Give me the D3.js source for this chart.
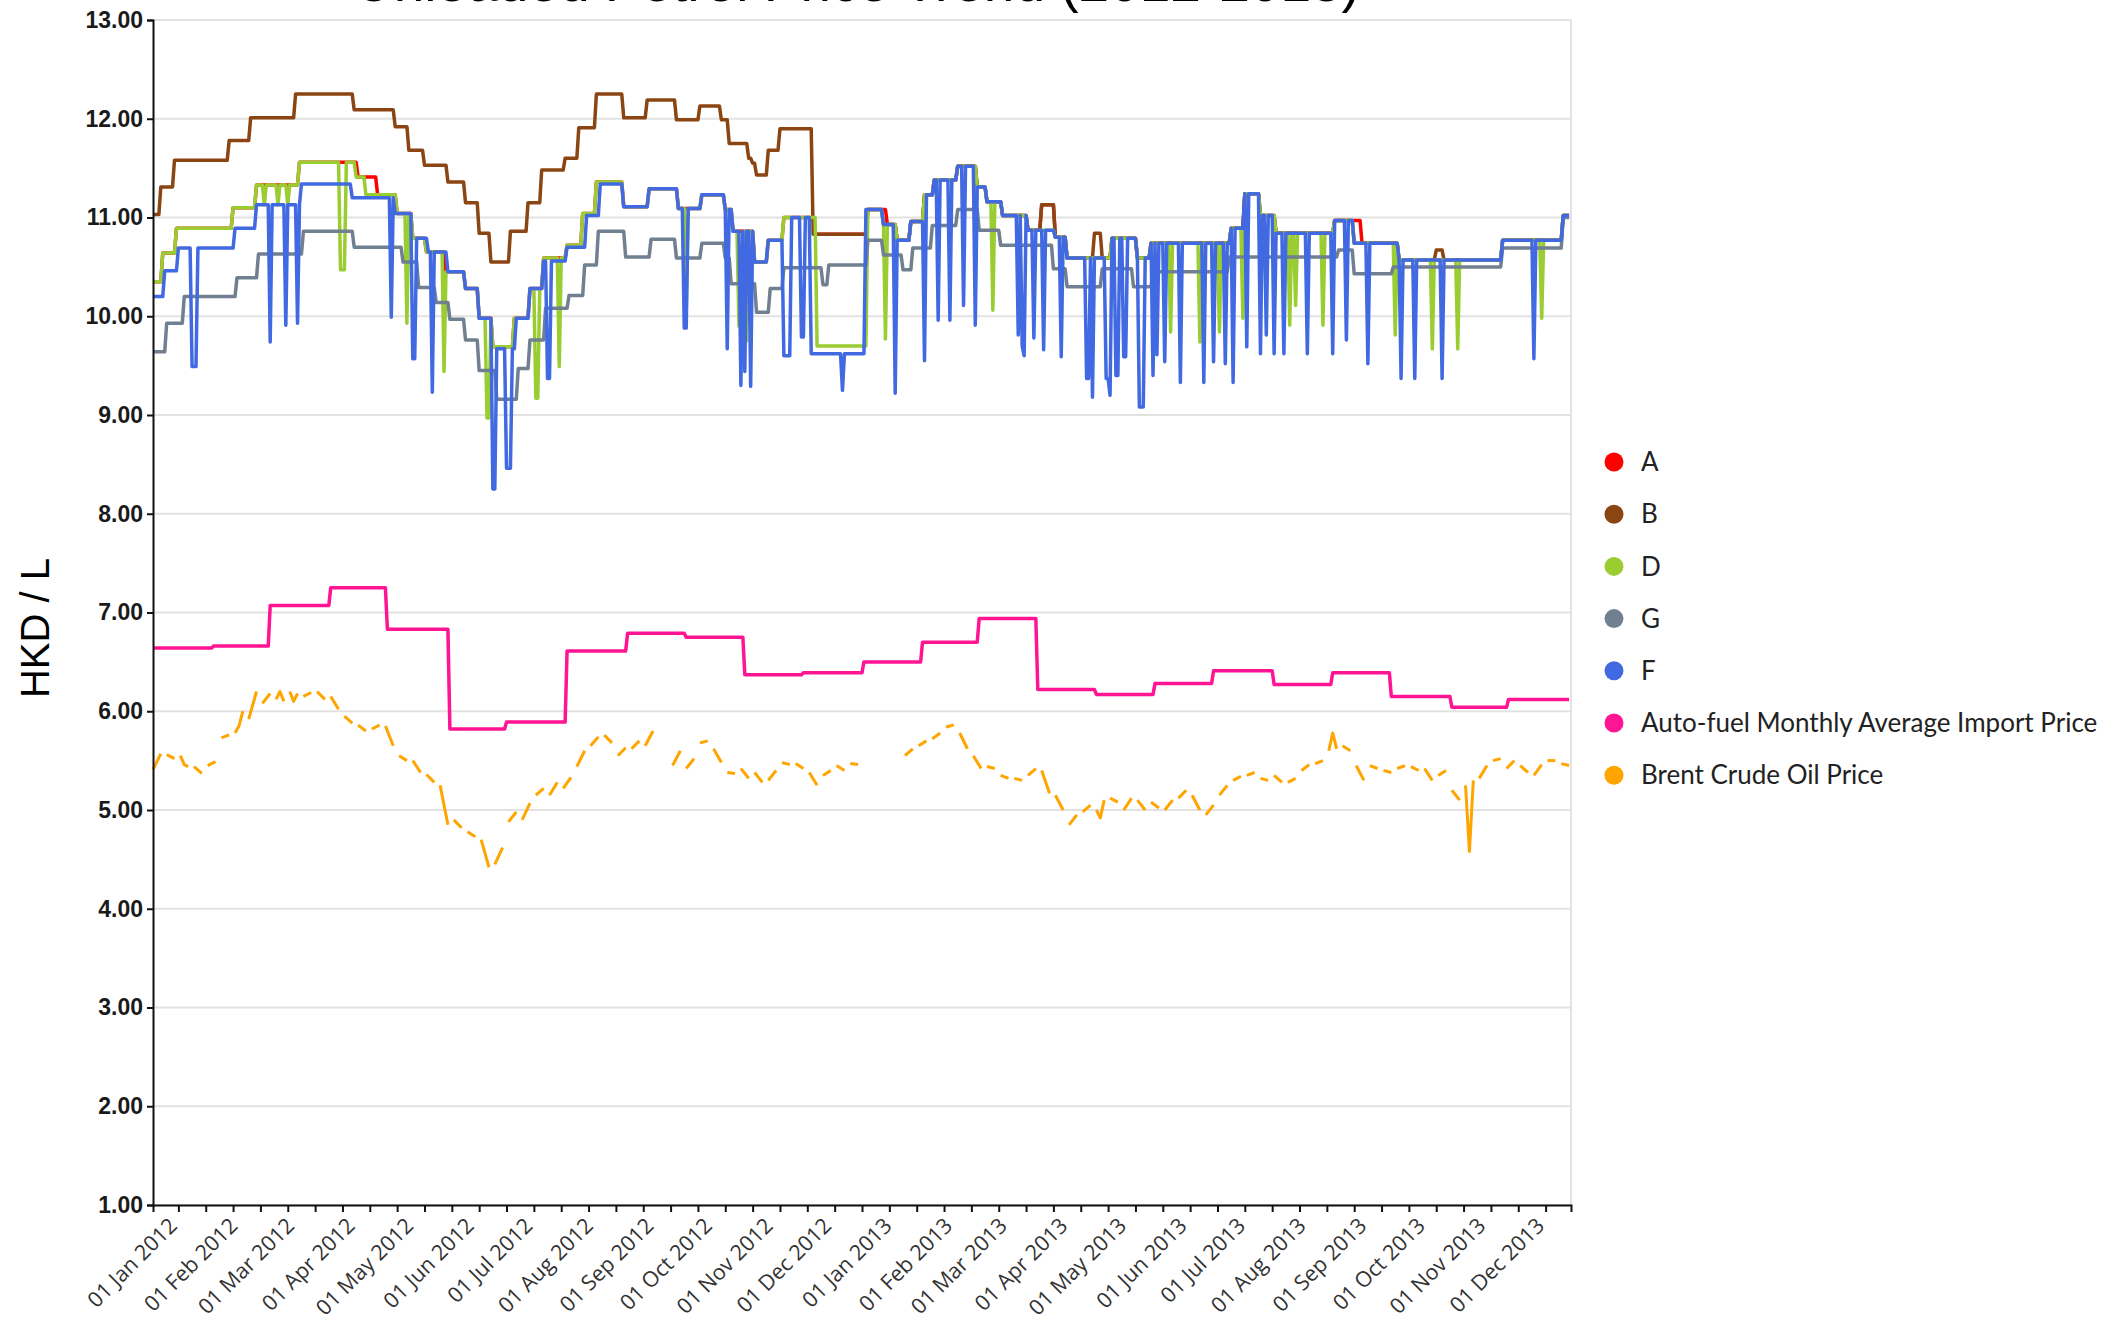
<!DOCTYPE html>
<html>
<head>
<meta charset="utf-8">
<script src="https://cdn.jsdelivr.net/npm/d3@7"></script>
<style>
  body { margin: 0; background: #fff; }
  svg { display: block; }
</style>
</head>
<body>
<div id="chart"></div>
<script>
// change points [date, HKD/L] - each value holds until the next one
var aSteps = [
  ["2011-12-19", 10.35], ["2011-12-24", 10.64], ["2011-12-31", 10.89], ["2012-01-29", 11.10],
  ["2012-02-10", 11.33], ["2012-03-03", 11.56], ["2012-04-02", 11.41], ["2012-04-12", 11.23],
  ["2012-04-22", 11.04], ["2012-04-30", 10.79], ["2012-05-07", 10.65], ["2012-05-17", 10.45],
  ["2012-05-27", 10.28], ["2012-06-03", 9.98], ["2012-06-10", 9.69], ["2012-06-21", 9.98],
  ["2012-06-29", 10.28], ["2012-07-06", 10.59], ["2012-07-18", 10.72], ["2012-07-26", 11.04],
  ["2012-08-02", 11.36], ["2012-08-16", 11.11], ["2012-08-29", 11.29], ["2012-09-13", 11.09],
  ["2012-09-25", 11.23], ["2012-10-07", 11.08], ["2012-10-11", 10.86], ["2012-10-22", 10.55],
  ["2012-10-29", 10.77], ["2012-11-06", 11.00], ["2012-11-22", 10.83], ["2012-12-19", 11.08],
  ["2012-12-29", 10.93], ["2013-01-03", 10.77], ["2013-01-10", 10.96], ["2013-01-17", 11.23],
  ["2013-01-22", 11.38], ["2013-02-03", 11.52], ["2013-02-13", 11.31], ["2013-02-18", 11.16],
  ["2013-02-26", 11.02], ["2013-03-11", 10.87], ["2013-03-18", 11.13], ["2013-03-25", 10.80],
  ["2013-03-31", 10.59], ["2013-04-23", 10.79], ["2013-05-06", 10.59], ["2013-05-13", 10.74],
  ["2013-06-23", 10.89], ["2013-06-30", 11.24], ["2013-07-08", 11.02], ["2013-07-16", 10.84],
  ["2013-08-15", 10.97], ["2013-08-29", 10.74], ["2013-09-17", 10.57], ["2013-11-09", 10.77],
  ["2013-12-10", 11.02]
];

var bSteps = [
  ["2011-12-19", 11.03], ["2011-12-23", 11.31], ["2011-12-30", 11.58], ["2012-01-27", 11.78],
  ["2012-02-07", 12.01], ["2012-03-01", 12.25], ["2012-03-31", 12.09], ["2012-04-21", 11.92],
  ["2012-04-28", 11.68], ["2012-05-06", 11.53], ["2012-05-18", 11.36], ["2012-05-27", 11.15],
  ["2012-06-03", 10.84], ["2012-06-09", 10.55], ["2012-06-19", 10.86], ["2012-06-28", 11.15],
  ["2012-07-05", 11.48], ["2012-07-17", 11.60], ["2012-07-24", 11.91], ["2012-08-02", 12.25],
  ["2012-08-16", 12.01], ["2012-08-28", 12.19], ["2012-09-12", 11.99], ["2012-09-24", 12.13],
  ["2012-10-05", 11.99], ["2012-10-09", 11.75], ["2012-10-19", 11.60], ["2012-10-21", 11.55],
  ["2012-10-23", 11.43], ["2012-10-29", 11.68], ["2012-11-04", 11.90], ["2012-11-21", 10.83],
  ["2012-12-19", 11.08], ["2012-12-27", 10.93], ["2013-01-03", 10.77], ["2013-01-10", 10.96],
  ["2013-01-17", 11.23], ["2013-01-22", 11.38], ["2013-02-03", 11.52], ["2013-02-13", 11.31],
  ["2013-02-18", 11.16], ["2013-02-26", 11.02], ["2013-03-11", 10.87], ["2013-03-18", 11.13],
  ["2013-03-25", 10.80], ["2013-03-31", 10.59], ["2013-04-14", 10.84], ["2013-04-18", 10.59],
  ["2013-04-23", 10.79], ["2013-05-06", 10.59], ["2013-05-13", 10.74], ["2013-06-23", 10.89],
  ["2013-06-30", 11.24], ["2013-07-08", 11.02], ["2013-07-16", 10.84], ["2013-08-15", 10.97],
  ["2013-08-25", 10.74], ["2013-09-17", 10.57], ["2013-10-06", 10.67], ["2013-10-10", 10.57],
  ["2013-11-09", 10.77], ["2013-12-10", 11.02]
];

var dSteps = [
  ["2011-12-19", 10.35], ["2011-12-24", 10.64], ["2011-12-31", 10.89], ["2012-01-29", 11.10],
  ["2012-02-10", 11.33], ["2012-03-03", 11.56], ["2012-04-01", 11.41], ["2012-04-06", 11.23],
  ["2012-04-22", 11.04], ["2012-04-30", 10.79], ["2012-05-07", 10.65], ["2012-05-17", 10.45],
  ["2012-05-27", 10.28], ["2012-06-03", 9.98], ["2012-06-10", 9.69], ["2012-06-21", 9.98],
  ["2012-06-29", 10.28], ["2012-07-06", 10.59], ["2012-07-18", 10.72], ["2012-07-26", 11.04],
  ["2012-08-02", 11.36], ["2012-08-16", 11.11], ["2012-08-29", 11.29], ["2012-09-13", 11.09],
  ["2012-09-25", 11.23], ["2012-10-07", 11.08], ["2012-10-11", 10.86], ["2012-10-22", 10.55],
  ["2012-10-29", 10.77], ["2012-11-06", 11.00], ["2012-11-23", 9.70], ["2012-12-19", 11.08],
  ["2012-12-27", 10.93], ["2013-01-03", 10.77], ["2013-01-10", 10.96], ["2013-01-17", 11.23],
  ["2013-01-22", 11.38], ["2013-02-03", 11.52], ["2013-02-13", 11.31], ["2013-02-18", 11.16],
  ["2013-02-26", 11.02], ["2013-03-11", 10.87], ["2013-03-25", 10.80], ["2013-03-31", 10.59],
  ["2013-04-23", 10.79], ["2013-05-06", 10.59], ["2013-05-13", 10.74], ["2013-06-23", 10.89],
  ["2013-06-30", 11.24], ["2013-07-08", 11.02], ["2013-07-16", 10.84], ["2013-08-15", 10.97],
  ["2013-08-25", 10.74], ["2013-09-17", 10.57], ["2013-11-09", 10.77], ["2013-12-10", 11.02]
];

var gSteps = [
  ["2011-12-19", 9.64], ["2011-12-26", 9.93], ["2012-01-04", 10.20], ["2012-01-31", 10.39],
  ["2012-02-11", 10.63], ["2012-03-05", 10.86], ["2012-03-31", 10.70], ["2012-04-25", 10.55],
  ["2012-05-03", 10.29], ["2012-05-12", 10.14], ["2012-05-19", 9.97], ["2012-05-27", 9.76],
  ["2012-06-03", 9.45], ["2012-06-12", 9.16], ["2012-06-23", 9.47], ["2012-06-29", 9.76],
  ["2012-07-07", 10.08], ["2012-07-19", 10.21], ["2012-07-27", 10.52], ["2012-08-03", 10.86],
  ["2012-08-17", 10.60], ["2012-08-30", 10.78], ["2012-09-12", 10.59], ["2012-09-25", 10.74],
  ["2012-10-07", 10.59], ["2012-10-10", 10.33], ["2012-10-23", 10.04], ["2012-10-30", 10.28],
  ["2012-11-06", 10.49], ["2012-11-26", 10.32], ["2012-11-29", 10.52], ["2012-12-19", 10.77],
  ["2012-12-27", 10.62], ["2013-01-06", 10.47], ["2013-01-11", 10.69], ["2013-01-21", 10.92],
  ["2013-02-03", 11.08], ["2013-02-14", 10.87], ["2013-02-25", 10.72], ["2013-03-24", 10.48],
  ["2013-03-31", 10.30], ["2013-04-18", 10.48], ["2013-05-04", 10.30], ["2013-05-14", 10.45],
  ["2013-06-22", 10.60], ["2013-08-17", 10.67], ["2013-08-25", 10.43], ["2013-09-14", 10.50],
  ["2013-11-09", 10.69], ["2013-12-10", 11.00]
];

var fSteps = [
  ["2011-12-19", 10.20], ["2011-12-25", 10.46], ["2012-01-01", 10.69], ["2012-01-30", 10.89],
  ["2012-02-10", 11.13], ["2012-03-04", 11.34], ["2012-03-30", 11.20], ["2012-04-21", 11.04],
  ["2012-04-30", 10.79], ["2012-05-08", 10.65], ["2012-05-18", 10.45], ["2012-05-27", 10.28],
  ["2012-06-03", 9.98], ["2012-06-10", 9.67], ["2012-06-22", 9.98], ["2012-06-29", 10.28],
  ["2012-07-06", 10.56], ["2012-07-18", 10.70], ["2012-07-28", 11.02], ["2012-08-04", 11.34],
  ["2012-08-16", 11.11], ["2012-08-29", 11.29], ["2012-09-13", 11.09], ["2012-09-25", 11.23],
  ["2012-10-07", 11.08], ["2012-10-11", 10.86], ["2012-10-22", 10.55], ["2012-10-29", 10.77],
  ["2012-11-06", 11.00], ["2012-11-20", 9.62], ["2012-12-18", 11.08], ["2012-12-27", 10.93],
  ["2013-01-03", 10.77], ["2013-01-10", 10.96], ["2013-01-17", 11.23], ["2013-01-22", 11.38],
  ["2013-02-03", 11.52], ["2013-02-13", 11.31], ["2013-02-18", 11.16], ["2013-02-26", 11.02],
  ["2013-03-11", 10.87], ["2013-03-25", 10.80], ["2013-03-31", 10.59], ["2013-04-23", 10.79],
  ["2013-05-06", 10.59], ["2013-05-13", 10.74], ["2013-06-23", 10.89], ["2013-06-30", 11.24],
  ["2013-07-08", 11.02], ["2013-07-16", 10.84], ["2013-08-15", 10.97], ["2013-08-25", 10.74],
  ["2013-09-17", 10.57], ["2013-11-09", 10.77], ["2013-12-10", 11.02]
];

// short discount dips [first day, HKD/L, number of days]
var dDips = [
  ["2012-02-14", 11.13, 1], ["2012-02-21", 11.13, 1], ["2012-02-26", 11.13, 1], ["2012-03-24", 10.47, 3],
  ["2012-04-27", 9.93, 1], ["2012-05-16", 9.44, 1], ["2012-06-07", 8.97, 2], ["2012-07-02", 9.17, 2],
  ["2012-07-14", 9.49, 1], ["2012-09-17", 10.06, 1], ["2012-10-14", 9.90, 2], ["2012-10-18", 9.75, 1],
  ["2012-12-28", 9.77, 1], ["2013-02-21", 10.06, 1], ["2013-05-23", 9.84, 1], ["2013-06-07", 9.74, 1],
  ["2013-06-17", 9.84, 1], ["2013-06-29", 9.98, 1], ["2013-07-23", 9.91, 1], ["2013-07-26", 10.11, 1],
  ["2013-08-09", 9.91, 1], ["2013-09-15", 9.81, 1], ["2013-10-04", 9.67, 1], ["2013-10-17", 9.67, 1],
  ["2013-11-29", 9.98, 1]
];

var fDips = [
  ["2012-01-08", 9.49, 3], ["2012-02-17", 9.74, 1], ["2012-02-25", 9.91, 1], ["2012-03-02", 9.93, 1],
  ["2012-04-19", 9.99, 1], ["2012-04-30", 9.57, 2], ["2012-05-10", 9.23, 1], ["2012-06-10", 8.25, 2],
  ["2012-06-17", 8.46, 3], ["2012-07-08", 9.37, 2], ["2012-09-16", 9.88, 2], ["2012-10-08", 9.67, 1],
  ["2012-10-15", 9.30, 1], ["2012-10-17", 9.44, 1], ["2012-10-20", 9.29, 1], ["2012-11-06", 9.60, 4],
  ["2012-11-15", 9.79, 2], ["2012-12-06", 9.25, 1], ["2013-01-02", 9.22, 1], ["2013-01-17", 9.55, 1],
  ["2013-01-24", 9.96, 1], ["2013-01-30", 9.96, 1], ["2013-02-06", 10.11, 1], ["2013-02-12", 9.91, 1],
  ["2013-03-06", 9.81, 1], ["2013-03-08", 9.70, 1], ["2013-03-09", 9.60, 1], ["2013-03-14", 9.78, 1],
  ["2013-03-19", 9.66, 1], ["2013-03-28", 9.59, 1], ["2013-04-10", 9.37, 2], ["2013-04-13", 9.18, 1],
  ["2013-04-20", 9.37, 2], ["2013-04-22", 9.20, 1], ["2013-04-25", 9.40, 2], ["2013-04-29", 9.59, 2],
  ["2013-05-07", 9.08, 3], ["2013-05-14", 9.40, 1], ["2013-05-16", 9.61, 1], ["2013-05-20", 9.54, 1],
  ["2013-05-28", 9.33, 1], ["2013-06-09", 9.33, 1], ["2013-06-14", 9.54, 1], ["2013-06-20", 9.52, 1],
  ["2013-06-24", 9.33, 1], ["2013-07-01", 9.69, 1], ["2013-07-08", 9.62, 1], ["2013-07-11", 9.81, 1],
  ["2013-07-15", 9.62, 1], ["2013-07-20", 9.62, 1], ["2013-08-01", 9.62, 1], ["2013-08-14", 9.62, 1],
  ["2013-08-21", 9.76, 1], ["2013-09-01", 9.52, 1], ["2013-09-18", 9.37, 1], ["2013-09-25", 9.37, 1],
  ["2013-10-09", 9.37, 1], ["2013-11-25", 9.57, 1]
];

var importSteps = [
  ["2011-12-19", 6.64], ["2012-01-19", 6.66], ["2012-02-17", 7.07], ["2012-03-19", 7.25],
  ["2012-04-17", 6.83], ["2012-05-19", 5.82], ["2012-06-17", 5.89], ["2012-07-18", 6.61],
  ["2012-08-18", 6.79], ["2012-09-17", 6.75], ["2012-10-17", 6.37], ["2012-11-16", 6.39],
  ["2012-12-17", 6.50], ["2013-01-16", 6.70], ["2013-02-14", 6.94], ["2013-03-16", 6.22],
  ["2013-04-15", 6.17], ["2013-05-15", 6.28], ["2013-06-14", 6.41], ["2013-07-15", 6.27],
  ["2013-08-14", 6.39], ["2013-09-13", 6.15], ["2013-10-14", 6.04], ["2013-11-12", 6.12]
];

// Brent, one trading week per row: [Monday, values spread Mon..Fri]
var brentWeeks = [
  ["2011-12-19", [5.41, 5.57]], ["2011-12-26", [5.56, 5.52]], ["2012-01-02", [5.55, 5.46, 5.44]],
  ["2012-01-09", [5.44, 5.37]], ["2012-01-16", [5.45, 5.49]], ["2012-01-23", [5.73, 5.76]],
  ["2012-01-30", [5.78, 5.85, 6.00]], ["2012-02-06", [5.92, 6.20]], ["2012-02-13", [6.08, 6.18]],
  ["2012-02-20", [6.12, 6.20, 6.10]], ["2012-02-27", [6.20, 6.10, 6.18]], ["2012-03-05", [6.15, 6.19]],
  ["2012-03-12", [6.20, 6.12]], ["2012-03-19", [6.15, 6.02]], ["2012-03-26", [5.95, 5.88]],
  ["2012-04-02", [5.86, 5.80]], ["2012-04-09", [5.82, 5.86]], ["2012-04-16", [5.85, 5.65]],
  ["2012-04-23", [5.55, 5.50]], ["2012-04-30", [5.50, 5.38]], ["2012-05-07", [5.36, 5.28]],
  ["2012-05-14", [5.25, 4.85]], ["2012-05-21", [4.90, 4.82]], ["2012-05-28", [4.78, 4.73]],
  ["2012-06-04", [4.70, 4.42]], ["2012-06-11", [4.45, 4.62]], ["2012-06-18", [4.88, 4.98]],
  ["2012-06-25", [4.90, 5.07]], ["2012-07-02", [5.15, 5.22]], ["2012-07-09", [5.15, 5.28]],
  ["2012-07-16", [5.22, 5.33]], ["2012-07-23", [5.44, 5.60]], ["2012-07-30", [5.65, 5.74]],
  ["2012-08-06", [5.76, 5.68]], ["2012-08-13", [5.55, 5.63]], ["2012-08-20", [5.62, 5.70]],
  ["2012-08-27", [5.65, 5.80]], ["2012-09-10", [5.45, 5.60]], ["2012-09-17", [5.42, 5.52]],
  ["2012-09-24", [5.68, 5.70]], ["2012-10-01", [5.62, 5.48]], ["2012-10-08", [5.38, 5.37]],
  ["2012-10-15", [5.42, 5.32]], ["2012-10-22", [5.38, 5.28]], ["2012-10-29", [5.30, 5.40]],
  ["2012-11-05", [5.48, 5.46]], ["2012-11-12", [5.47, 5.42]], ["2012-11-19", [5.38, 5.25]],
  ["2012-11-26", [5.35, 5.40]], ["2012-12-03", [5.45, 5.40]], ["2012-12-10", [5.47, 5.46]],
  ["2013-01-07", [5.55, 5.62]], ["2013-01-14", [5.65, 5.70]], ["2013-01-21", [5.72, 5.78]],
  ["2013-01-28", [5.84, 5.86]], ["2013-02-04", [5.78, 5.62]], ["2013-02-11", [5.55, 5.42]],
  ["2013-02-18", [5.44, 5.42]], ["2013-02-25", [5.35, 5.32]], ["2013-03-04", [5.32, 5.30]],
  ["2013-03-11", [5.35, 5.42]], ["2013-03-18", [5.40, 5.17]], ["2013-03-25", [5.15, 5.00]],
  ["2013-04-01", [4.85, 4.95]], ["2013-04-08", [4.98, 5.05]], ["2013-04-15", [5.00, 4.92, 5.10]],
  ["2013-04-22", [5.12, 5.08]], ["2013-04-29", [5.00, 5.12]], ["2013-05-06", [5.10, 5.00]],
  ["2013-05-13", [5.08, 5.02]], ["2013-05-20", [5.00, 5.10]], ["2013-05-27", [5.12, 5.20]],
  ["2013-06-03", [5.15, 5.00]], ["2013-06-10", [4.95, 5.05]], ["2013-06-17", [5.15, 5.25]],
  ["2013-06-24", [5.30, 5.34]], ["2013-07-01", [5.35, 5.38]], ["2013-07-08", [5.32, 5.30]],
  ["2013-07-15", [5.35, 5.28]], ["2013-07-22", [5.28, 5.32]], ["2013-07-29", [5.40, 5.46]],
  ["2013-08-05", [5.47, 5.50]], ["2013-08-12", [5.60, 5.78, 5.62]], ["2013-08-19", [5.65, 5.60]],
  ["2013-08-26", [5.45, 5.30]], ["2013-09-02", [5.45, 5.42]], ["2013-09-09", [5.40, 5.38]],
  ["2013-09-16", [5.42, 5.45]], ["2013-09-23", [5.44, 5.40]], ["2013-09-30", [5.42, 5.30]],
  ["2013-10-07", [5.35, 5.40]], ["2013-10-14", [5.20, 5.10]], ["2013-10-21", [5.25, 4.58, 5.30]],
  ["2013-10-28", [5.32, 5.45]], ["2013-11-04", [5.50, 5.52]], ["2013-11-11", [5.42, 5.50]],
  ["2013-11-18", [5.45, 5.38]], ["2013-11-25", [5.35, 5.46]], ["2013-12-02", [5.50, 5.50]],
  ["2013-12-09", [5.47, 5.45]]
];

var yTicks = [1, 2, 3, 4, 5, 6, 7, 8, 9, 10, 11, 12, 13];
var legendNames = ["A", "B", "D", "G", "F", "Auto-fuel Monthly Average Import Price", "Brent Crude Oil Price"];
var legendColors = ["#ff0000", "#8b4513", "#9acd32", "#708090", "#4169e1", "#ff1493", "#ffa500"];

(function () {
    var width = 2113,
        height = 1322;
    var left = 153, right = 1571, top = 20, bottom = 1205;

    var parse = d3.utcParse("%Y-%m-%d");
    var startDate = parse("2011-12-19"),
        endDate = parse("2013-12-14"),
        lastDay = parse("2013-12-13");

    var svg = d3.select("#chart")
        .append("svg")
        .attr("width", width)
        .attr("height", height);

    var x = d3.scaleUtc().domain([startDate, endDate]).range([left, right]);
    var y = d3.scaleLinear().domain([1, 13]).range([bottom, top]);

    // hold each price until the next change, then lay the dips over it
    function daily(steps, dips) {
        var pts = steps.map(function (s) { return [parse(s[0]), s[1]]; });
        var days = d3.utcDay.range(pts[0][0], d3.utcDay.offset(lastDay, 1));
        var j = 0;
        var out = days.map(function (day) {
            while (j + 1 < pts.length && pts[j + 1][0] <= day) j++;
            return { date: day, value: pts[j][1] };
        });
        (dips || []).forEach(function (d) {
            var t0 = parse(d[0]);
            out.forEach(function (p) {
                var k = d3.utcDay.count(t0, p.date);
                if (k >= 0 && k < d[2]) p.value = d[1];
            });
        });
        return out;
    }

    // grid
    svg.append("g")
        .selectAll("line")
        .data(yTicks)
        .enter().append("line")
        .attr("x1", left)
        .attr("x2", right)
        .attr("y1", function (d) { return y(d); })
        .attr("y2", function (d) { return y(d); })
        .attr("stroke", "#e2e2e2")
        .attr("stroke-width", 2);

    svg.append("line")
        .attr("x1", right).attr("x2", right)
        .attr("y1", top).attr("y2", bottom)
        .attr("stroke", "#e2e2e2")
        .attr("stroke-width", 2);

    var line = d3.line()
        .x(function (d) { return x(d.date); })
        .y(function (d) { return y(d.value); });

    var plot = svg.append("g").attr("fill", "none").attr("stroke-linejoin", "round");

    plot.append("path")
        .datum(daily(importSteps))
        .attr("d", line)
        .attr("stroke", legendColors[5])
        .attr("stroke-width", 3.5);

    var brent = brentWeeks.map(function (w) {
        var mon = parse(w[0]);
        var n = w[1].length;
        return w[1].map(function (v, i) {
            return { date: new Date(+mon + i * 4 / (n - 1) * 864e5), value: v };
        });
    });

    plot.selectAll(".brent")
        .data(brent)
        .enter().append("path")
        .attr("class", "brent")
        .attr("d", line)
        .attr("stroke", legendColors[6])
        .attr("stroke-width", 3);

    var companies = [
        daily(aSteps),
        daily(bSteps),
        daily(dSteps, dDips),
        daily(gSteps),
        daily(fSteps, fDips)
    ];

    plot.selectAll(".company")
        .data(companies)
        .enter().append("path")
        .attr("class", "company")
        .attr("d", line)
        .attr("stroke", function (d, i) { return legendColors[i]; })
        .attr("stroke-width", 3.5);

    // axes
    var yAxis = svg.append("g")
        .attr("transform", "translate(" + left + ",0)")
        .call(d3.axisLeft(y).tickValues(yTicks).tickFormat(d3.format(".2f")).tickSize(6).tickPadding(4));
    yAxis.selectAll("text")
        .attr("font-family", "'Liberation Sans', Arial, sans-serif")
        .attr("font-weight", "bold")
        .attr("font-size", 23)
        .attr("fill", "#1a1a1a");
    yAxis.selectAll("line, path").attr("stroke", "#111").attr("stroke-width", 2);

    var xAxis = svg.append("g")
        .attr("transform", "translate(0," + bottom + ")")
        .call(d3.axisBottom(x)
            .tickValues(d3.utcSunday.range(parse("2012-01-01"), endDate, 2))
            .tickFormat("")
            .tickSize(7));
    xAxis.selectAll("line, path").attr("stroke", "#111").attr("stroke-width", 2);

    var fmt = d3.utcFormat("%d %b %Y");
    svg.append("g")
        .selectAll("text")
        .data(d3.utcMonth.range(parse("2012-01-01"), endDate))
        .enter().append("text")
        .attr("transform", function (d) {
            return "translate(" + x(d) + "," + (bottom + 22) + ") rotate(-45)";
        })
        .attr("text-anchor", "end")
        .attr("font-family", "'Open Sans', sans-serif")
        .attr("font-size", 21.5)
        .attr("fill", "#333")
        .text(function (d) { return fmt(d); });

    svg.append("text")
        .attr("transform", "translate(35,628) rotate(-90)")
        .attr("text-anchor", "middle")
        .attr("dominant-baseline", "central")
        .attr("font-family", "'Liberation Sans', Arial, sans-serif")
        .attr("font-size", 40)
        .attr("fill", "#000")
        .text("HKD / L");

    svg.append("text")
        .attr("x", (left + right) / 2 - 5)
        .attr("y", 1)
        .attr("text-anchor", "middle")
        .attr("font-family", "'Liberation Sans', Arial, sans-serif")
        .attr("font-size", 55)
        .attr("fill", "#000")
        .text("Unleaded Petrol Price Trend (2012-2013)");

    // legend
    var legend = svg.append("g")
        .selectAll("g")
        .data(legendNames)
        .enter().append("g")
        .attr("transform", function (d, i) { return "translate(1614," + (462 + i * 52.2) + ")"; });

    legend.append("circle")
        .attr("r", 9.5)
        .attr("fill", function (d, i) { return legendColors[i]; });

    legend.append("text")
        .attr("x", 27)
        .attr("dy", "0.35em")
        .attr("font-family", "Lato, sans-serif")
        .attr("font-size", 26)
        .attr("fill", "#222")
        .text(function (d) { return d; });
})();
</script>
</body>
</html>
